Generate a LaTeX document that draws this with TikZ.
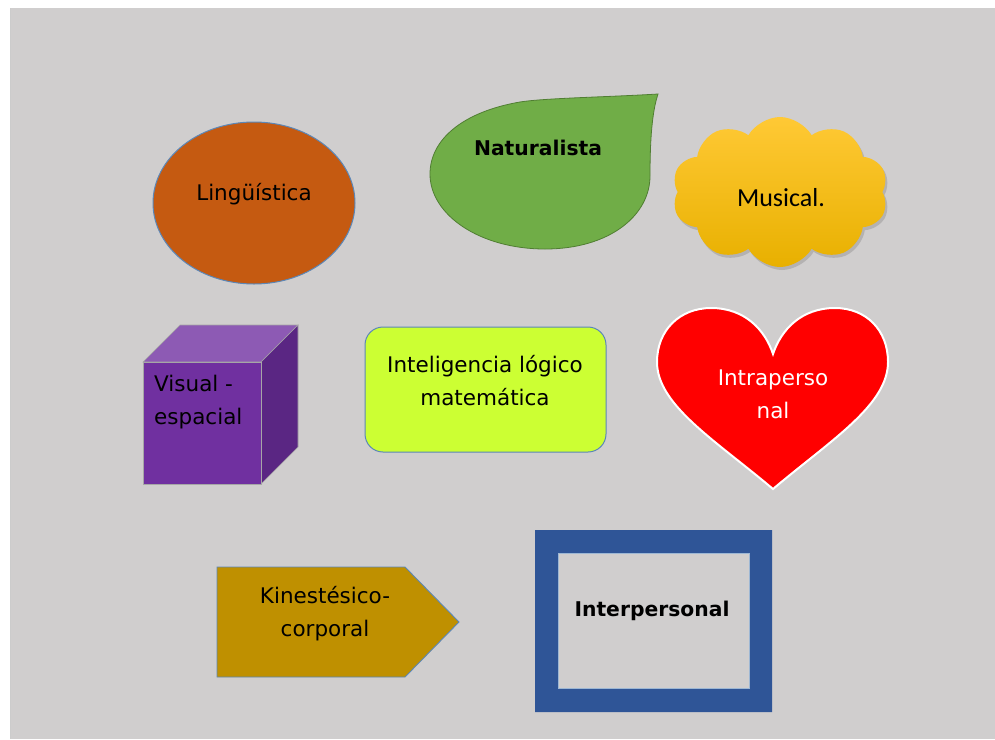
\documentclass[tikz,border=0pt]{standalone}
\usepackage{fontspec}
\setmainfont{DejaVu Sans}
\newfontfamily\calib{Carlito}
\usetikzlibrary{shapes.symbols,shapes.geometric,shadows}
\definecolor{bgc}{HTML}{D0CECE}
\definecolor{edgeblue}{HTML}{5B87B8}
\definecolor{lingc}{HTML}{C55A11}
\definecolor{leafc}{HTML}{70AD47}
\definecolor{leafedge}{HTML}{507E32}
\definecolor{cubefront}{HTML}{7030A0}
\definecolor{cubetop}{HTML}{8D5AB4}
\definecolor{cuberight}{HTML}{5A2683}
\definecolor{limec}{HTML}{CCFF33}
\definecolor{kinc}{HTML}{BF9000}
\definecolor{framec}{HTML}{2F5597}
\definecolor{cloudtop}{HTML}{FFC935}
\definecolor{cloudbot}{HTML}{E8B000}
\begin{document}
\begin{tikzpicture}[x=1pt,y=-1pt,
  txt/.style={font=\fontsize{21.5}{33}\selectfont, align=center, text=black, inner sep=0},
  boldtxt/.style={font=\fontsize{20.3}{33}\selectfont\bfseries, text=black, inner sep=0}]
\useasboundingbox (0,0) rectangle (995,739);
\fill[white] (0,0) rectangle (995,739);
\fill[bgc] (11,8) rectangle (995,739);
\draw[gray!40, line width=1.2] (10.6,8) -- (10.6,739);

% Linguistica
\node[ellipse, draw=edgeblue, line width=1, fill=lingc, minimum width=202, minimum height=162, inner sep=0] (ling) at (254,203) {};
\node[txt] (lingt) at (254,194) {Lingüística};

% Naturalista leaf
\filldraw[fill=leafc, draw=leafedge, line width=0.8]
  (658,94) .. controls (610,97) and (545,98) .. (520,102)
  .. controls (462,112) and (430,140) .. (430,174)
  .. controls (430,215) and (480,249) .. (545,249)
  .. controls (610,249) and (650,215) .. (650,176)
  .. controls (650,140) and (652,112) .. (658,94) -- cycle;
\node[boldtxt] (natt) at (538,148) {Naturalista};

% Musical cloud
\node[cloud, cloud puffs=10, cloud puff arc=120, aspect=1.5, minimum width=216, minimum height=150, inner sep=0,
  top color=cloudtop, bottom color=cloudbot, draw=none,
  drop shadow={shadow xshift=2pt, shadow yshift=-3pt, opacity=0.35}] (cloud) at (780,192) {};
\node[font=\calib\fontsize{26}{30}\selectfont, inner sep=0] (cloudt) at (781,198) {Musical.};

% Cube
\filldraw[fill=cubetop, draw=gray!70, line width=0.6] (143,362) -- (180,325) -- (298,325) -- (261,362) -- cycle;
\filldraw[fill=cuberight, draw=gray!70, line width=0.6] (261,362) -- (298,325) -- (298,447) -- (261,484) -- cycle;
\filldraw[fill=cubefront, draw=gray!70, line width=0.6] (143,362) rectangle (261,484);
\node[txt, align=left, anchor=west] (cubet) at (154,402) {Visual -\\espacial};

% Inteligencia logico matematica
\node[draw=edgeblue, line width=1, fill=limec, rounded corners=18, minimum width=241, minimum height=125, inner sep=0] (logic) at (485.5,389.5) {};
\node[txt] (logict) at (485,381) {Inteligencia lógico\\matemática};

% Heart
\filldraw[fill=red, draw=white, line width=2]
  (773,489) .. controls (715,440) and (657,405) .. (657,362)
  .. controls (657,330) and (680,308) .. (711,308)
  .. controls (745,308) and (765,330) .. (773,354)
  .. controls (781,330) and (801,308) .. (835,308)
  .. controls (866,308) and (888,330) .. (888,362)
  .. controls (888,405) and (831,440) .. (773,489) -- cycle;
\node[txt, text=white] (heartt) at (773,394) {Intraperso\\nal};

% Kinestesico
\filldraw[fill=kinc, draw=edgeblue, line width=0.9] (217,567) -- (405,567) -- (459,622) -- (405,677) -- (217,677) -- cycle;
\node[txt] (kint) at (325,614) {Kinestésico-\\corporal};

% Interpersonal frame
\fill[framec, even odd rule] (535,530) rectangle (772,712) (558,553) rectangle (749,688);
\draw[edgeblue!60, line width=0.6] (558,553) rectangle (749,688);
\node[boldtxt] (intert) at (652,611) {Interpersonal};
\end{tikzpicture}
\end{document}
